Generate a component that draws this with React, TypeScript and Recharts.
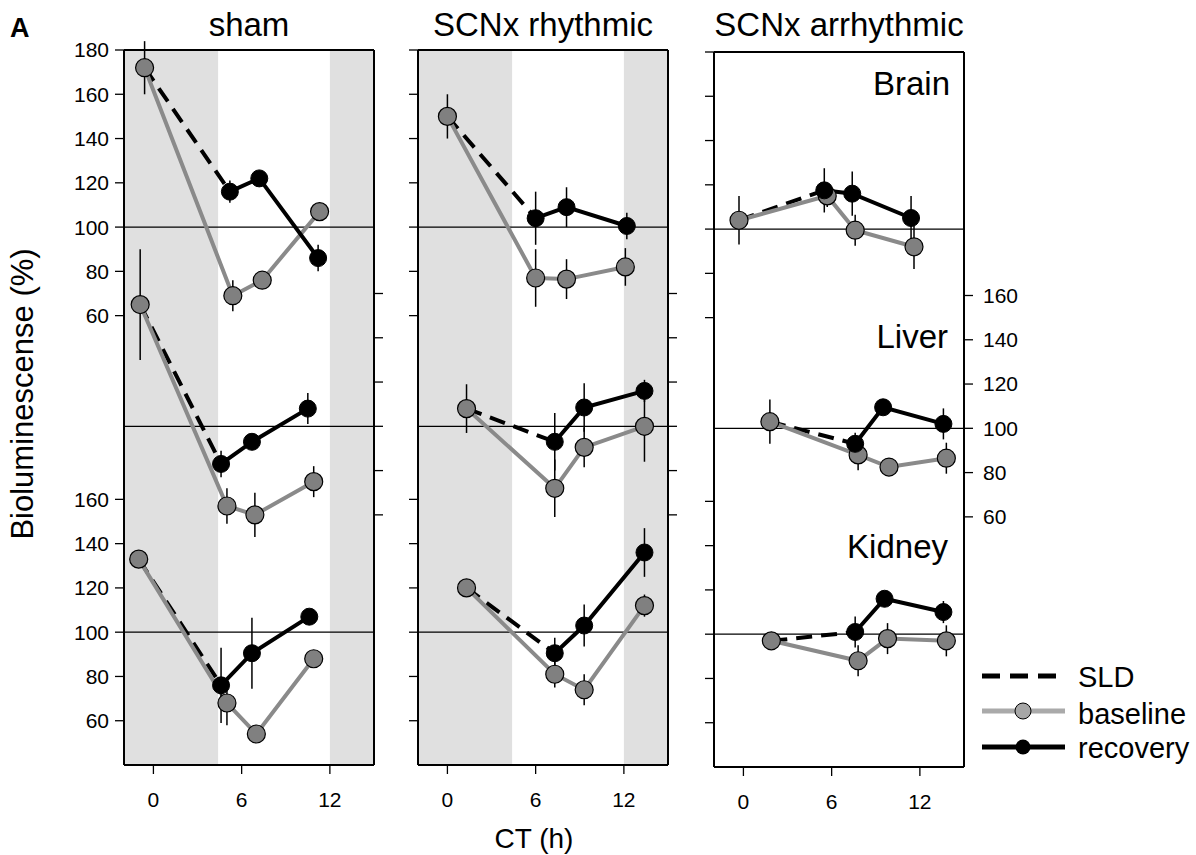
import React from 'react'
import { LineChart, Line, XAxis, YAxis, ReferenceArea, ReferenceLine, ErrorBar } from 'recharts'

const FONT = '"Liberation Sans", Arial, Helvetica, sans-serif'
const GRAY_LINE = '#8a8a8a'
const GRAY_DOT = '#808080'

// each row: [CT (h), bioluminescence (%), error]
const shamBrainBase = [[-0.6, 172, 12], [5.4, 69, 7], [7.4, 76, 3], [11.3, 107, 3]]
const shamBrainRec = [[5.2, 116, 5], [7.2, 122, 3], [11.2, 86, 6]]
const shamLiverBase = [[-0.9, 155, 25], [5.0, 64, 8], [6.9, 60, 10], [10.9, 75, 7]]
const shamLiverRec = [[4.6, 83, 6], [6.7, 93, 3], [10.5, 108, 7]]
const shamKidneyBase = [[-1.0, 133, 3], [5.0, 68, 10], [7.0, 54, 3], [10.9, 88, 3]]
const shamKidneyRec = [[4.6, 76, 17], [6.7, 90.5, 16], [10.6, 107, 3]]

const rhyBrainBase = [[0.0, 150, 10], [6.0, 77, 13], [8.1, 76.5, 9], [12.1, 82, 8.5]]
const rhyBrainRec = [[6.0, 104, 12], [8.1, 109, 9], [12.2, 100.5, 6]]
const rhyLiverBase = [[1.3, 108, 11], [7.3, 72, 13], [9.3, 90.5, 9], [13.4, 100, 16]]
const rhyLiverRec = [[7.3, 93, 13], [9.3, 108.5, 11], [13.4, 116, 5]]
const rhyKidneyBase = [[1.3, 120, 3], [7.3, 81, 6], [9.3, 74, 7], [13.4, 112, 5]]
const rhyKidneyRec = [[7.3, 90.5, 7], [9.3, 103, 9.5], [13.4, 136, 11]]

const arrBrainBase = [[-0.3, 104, 11], [5.7, 115, 5], [7.6, 99.5, 7], [11.6, 92, 10]]
const arrBrainRec = [[5.5, 117.5, 10], [7.4, 116, 10], [11.4, 105, 10]]
const arrLiverBase = [[1.8, 103, 10], [7.8, 88, 7], [9.9, 82.5, 3], [13.8, 86.5, 7]]
const arrLiverRec = [[7.6, 93, 5], [9.5, 109.5, 3], [13.6, 102, 7]]
const arrKidneyBase = [[1.9, 97, 3], [7.8, 88, 7], [9.8, 98, 7], [13.8, 97, 7]]
const arrKidneyRec = [[7.6, 101, 7], [9.6, 116, 3], [13.6, 110, 5]]

const organNames = ['Brain', 'Liver', 'Kidney']
// vertical offsets that stack the three organs in one panel
const organOffsets = [0, -90, -183]
const brainTicks = [60, 80, 100, 120, 140, 160, 180]
const liverTicks = [60, 80, 100, 120, 140, 160]
const kidneyTicks = [60, 80, 100, 120, 140, 160]
const ctTicks = [0, 6, 12]
const ctDomain = [-2, 15]
const yDomain = [-143, 180]
const shadedCT = [[-2, 4.4], [12, 15]]

const panels = [
  { title: 'sham', left: 124, top: 50, shade: true, leftLabels: true, rightLabels: false,
    organs: [[shamBrainBase, shamBrainRec], [shamLiverBase, shamLiverRec], [shamKidneyBase, shamKidneyRec]] },
  { title: 'SCNx rhythmic', left: 418, top: 50, shade: true, leftLabels: false, rightLabels: false,
    organs: [[rhyBrainBase, rhyBrainRec], [rhyLiverBase, rhyLiverRec], [rhyKidneyBase, rhyKidneyRec]] },
  { title: 'SCNx arrhythmic', left: 714, top: 52, shade: false, leftLabels: false, rightLabels: true,
    organs: [[arrBrainBase, arrBrainRec], [arrLiverBase, arrLiverRec], [arrKidneyBase, arrKidneyRec]] },
]

const AXW = 70
const BOX_W = 250
const BOX_H = 715
const XAX_H = 50
const TOP_PAD = 20
const TICK = 9

const toPts = (rows: number[][], off: number) => rows.map(([x, v, e]) => ({ x, y: v + off, e }))

const leftTicks = [...brainTicks.map((v) => v + organOffsets[0]), ...kidneyTicks.map((v) => v + organOffsets[2])].sort(
  (a, b) => a - b,
)
const rightTicks = liverTicks.map((v) => v + organOffsets[1])
const leftFmt = (v: number) => String(v > 40 ? v - organOffsets[0] : v - organOffsets[2])
const rightFmt = (v: number) => String(v - organOffsets[1])

const tickStyle = { fill: '#000', fontSize: 21, fontFamily: FONT }

// ticks drawn by hand so the unlabeled ones keep their tick marks
function SideTick(props: any) {
  const right = props.side === 'right'
  const ax = right ? AXW + BOX_W : AXW
  const end = right ? ax + TICK : ax - TICK
  return (
    <g>
      <line x1={ax} x2={end} y1={props.y} y2={props.y} stroke="#000" strokeWidth={1.3} />
      {props.show && (
        <text
          x={right ? end + 10 : end - 6}
          y={props.y}
          dy="0.355em"
          fontSize={21}
          fontFamily={FONT}
          fill="#000"
          textAnchor={right ? 'start' : 'end'}
        >
          {right ? rightFmt(props.payload.value) : leftFmt(props.payload.value)}
        </text>
      )}
    </g>
  )
}

function Panel({ p }: { p: any }) {
  return (
    <div style={{ position: 'absolute', left: p.left - AXW, top: p.top - TOP_PAD }}>
      <LineChart
        width={AXW * 2 + BOX_W}
        height={BOX_H + XAX_H + TOP_PAD}
        margin={{ top: TOP_PAD, right: 0, bottom: 0, left: 0 }}
      >
        {p.shade &&
          shadedCT.map(([a, b], i) => (
            <ReferenceArea key={'s' + i} yAxisId="left" x1={a} x2={b} fill="#e0e0e0" fillOpacity={1} stroke="none" />
          ))}
        <XAxis
          type="number"
          dataKey="x"
          domain={ctDomain}
          ticks={ctTicks}
          interval={0}
          allowDataOverflow
          height={XAX_H}
          tickSize={TICK}
          tickMargin={18}
          tick={tickStyle}
          tickLine={{ stroke: '#000', strokeWidth: 1.3 }}
          axisLine={{ stroke: '#000', strokeWidth: 2 }}
        />
        <YAxis
          yAxisId="left"
          type="number"
          domain={yDomain}
          ticks={leftTicks}
          interval={0}
          allowDataOverflow
          width={AXW}
          tickLine={false}
          tick={(props: any) => <SideTick {...props} side="left" show={p.leftLabels} />}
          axisLine={{ stroke: '#000', strokeWidth: 2 }}
        />
        <YAxis
          yAxisId="right"
          orientation="right"
          type="number"
          domain={yDomain}
          ticks={rightTicks}
          interval={0}
          allowDataOverflow
          width={AXW}
          tickLine={false}
          tick={(props: any) => <SideTick {...props} side="right" show={p.rightLabels} />}
          axisLine={{ stroke: '#000', strokeWidth: 2 }}
        />
        <ReferenceLine yAxisId="left" y={yDomain[1]} stroke="#000" strokeWidth={2} />
        {organOffsets.map((off, i) => (
          <ReferenceLine key={'r' + i} yAxisId="left" y={100 + off} stroke="#000" strokeWidth={1.3} />
        ))}
        {p.organs.map(([baseRows, recRows]: number[][][], i: number) => {
          const off = organOffsets[i]
          const base = toPts(baseRows, off)
          const rec = toPts(recRows, off)
          return [
            <Line
              key={'sld' + i}
              yAxisId="left"
              data={[base[0], rec[0]]}
              dataKey="y"
              type="linear"
              stroke="#000"
              strokeWidth={4}
              strokeDasharray="16 9"
              dot={false}
              activeDot={false}
              isAnimationActive={false}
            />,
            <Line
              key={'base' + i}
              yAxisId="left"
              data={base}
              dataKey="y"
              type="linear"
              stroke={GRAY_LINE}
              strokeWidth={4}
              dot={{ r: 9, fill: GRAY_DOT, stroke: '#000', strokeWidth: 1.2 }}
              activeDot={false}
              isAnimationActive={false}
            >
              <ErrorBar dataKey="e" direction="y" width={0} stroke="#000" strokeWidth={1.5} isAnimationActive={false} />
            </Line>,
            <Line
              key={'rec' + i}
              yAxisId="left"
              data={rec}
              dataKey="y"
              type="linear"
              stroke="#000"
              strokeWidth={4}
              dot={{ r: 8.5, fill: '#000', stroke: '#000', strokeWidth: 1 }}
              activeDot={false}
              isAnimationActive={false}
            >
              <ErrorBar dataKey="e" direction="y" width={0} stroke="#000" strokeWidth={1.5} isAnimationActive={false} />
            </Line>,
          ]
        })}
      </LineChart>
    </div>
  )
}

export default function App() {
  return (
    <div style={{ position: 'absolute', left: 0, top: 0, width: 1196, height: 855, background: '#fff', overflow: 'hidden' }}>
      {panels.map((p) => (
        <Panel key={p.title} p={p} />
      ))}
      <svg width={1196} height={855} style={{ position: 'absolute', left: 0, top: 0, pointerEvents: 'none' }} fontFamily={FONT}>
        <text x={10} y={37} fontSize={27} fontWeight="bold">A</text>
        {panels.map((p) => (
          <text key={p.title} x={p.left + BOX_W / 2} y={36} fontSize={33} textAnchor="middle">
            {p.title}
          </text>
        ))}
        <text x={950} y={95} fontSize={33} textAnchor="end">{organNames[0]}</text>
        <text x={948} y={348} fontSize={33} textAnchor="end">{organNames[1]}</text>
        <text x={948} y={558} fontSize={33} textAnchor="end">{organNames[2]}</text>
        <text x={33} y={394} fontSize={31} textAnchor="middle" transform="rotate(-90 33 394)">
          Bioluminescense (%)
        </text>
        <text x={534} y={848} fontSize={28} textAnchor="middle">CT (h)</text>

        <line x1={982} y1={676} x2={1060} y2={676} stroke="#000" strokeWidth={5} strokeDasharray="18 10" />
        <line x1={982} y1={711} x2={1065} y2={711} stroke="#aaaaaa" strokeWidth={5} />
        <circle cx={1023} cy={711} r={8} fill="#a6a6a6" stroke="#000" strokeWidth={1} />
        <line x1={982} y1={747} x2={1065} y2={747} stroke="#000" strokeWidth={5} />
        <circle cx={1023} cy={747} r={7.5} fill="#000" />
        <text x={1078} y={687} fontSize={29}>SLD</text>
        <text x={1078} y={724} fontSize={29}>baseline</text>
        <text x={1078} y={758} fontSize={29}>recovery</text>
      </svg>
    </div>
  )
}
